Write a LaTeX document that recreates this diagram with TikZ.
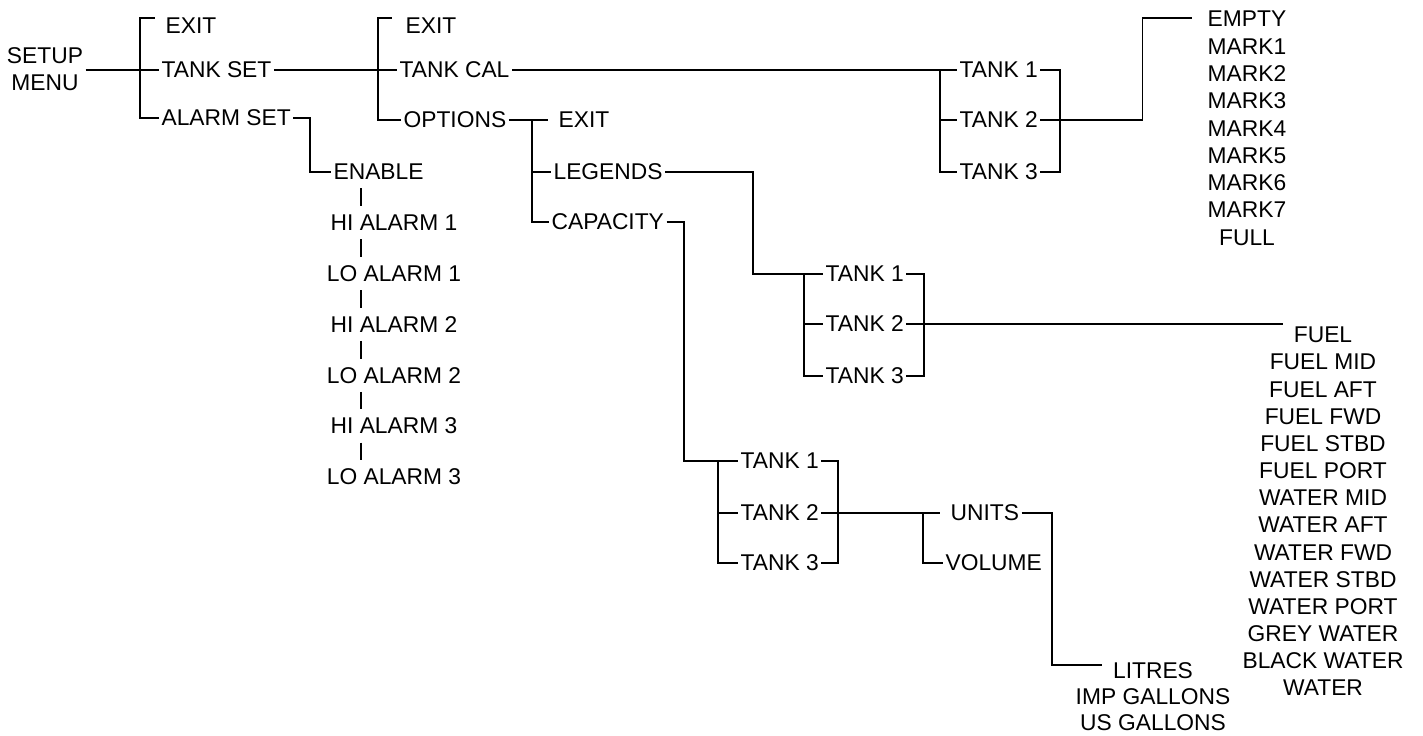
\documentclass[tikz,border=0pt]{standalone}
\usepackage{fontspec}
\setmainfont{Liberation Sans}
\usepackage{tikz}
\usetikzlibrary{positioning,calc}

\newcommand{\menufont}{\fontsize{11.4}{13.6}\selectfont}

\begin{document}
\begin{tikzpicture}[
    x=0.5pt, y=-0.5pt,
    item/.style={anchor=west, inner sep=1pt, font=\menufont},
    entry/.style={inner sep=1pt, font=\menufont},
    link/.style={line width=0.6pt},
    every path/.style={link}
]
\useasboundingbox (0,0) rectangle (1423,735);

% Spines of the brackets
\coordinate (sp4) at (940,0);
\coordinate (rb4) at (1060,0);
\coordinate (sp5) at (804,0);
\coordinate (rb5) at (924,0);
\coordinate (sp6) at (718,0);
\coordinate (rb6) at (838,0);
\coordinate (sp7) at (923,0);
\coordinate (alx) at (361,0);

% Top level
\node[entry, align=center] (menu) at (45,69) {SETUP\\MENU};
\node[item] (exitA) at (163,26) {EXIT};
\node[item] (tankset) at (159,70) {TANK SET};
\node[item] (alarmset) at (159,118) {ALARM SET};

\draw (menu.east |- tankset) -- (tankset.west);
\draw (alarmset.west) -- ++(-19,0) |- ($(exitA.west)+(-8,-8)$);

% Tank set
\node[item] (exitB) at (403,26) {EXIT};
\node[item] (tankcal) at (397,70) {TANK CAL};
\node[item] (options) at (401,120) {OPTIONS};

\draw (tankset.east) -- (tankcal.west);
\draw (options.west) -- ++(-23,0) |- ($(exitB.west)+(-11,-8)$);

% Options
\node[item] (exitC) at (556,120) {EXIT};
\node[item] (legends) at (551,172) {LEGENDS};
\node[item] (capacity) at (549,222) {CAPACITY};

\draw (options.east) -- ($(exitC.west)+(-8,0)$);
\draw ($(exitC.west)+(-24,0)$) |- (capacity.west);
\draw ($(legends.west)+(-19,0)$) -- (legends.west);

% Alarm set
\node[item] (enable) at (331,172) {ENABLE};
\draw (alarmset.east) -| ($(enable.west)+(-21,0)$) -- (enable.west);

\foreach \t [count=\i] in {HI ALARM 1, LO ALARM 1, HI ALARM 2, LO ALARM 2, HI ALARM 3, LO ALARM 3}
    \node[entry] (al\i) at (394, {172+50.8*\i}) {\t};

\draw[shorten <=3pt, shorten >=3pt] (enable.south -| alx) -- (al1.north -| alx);
\foreach \i [evaluate=\i as \j using int(\i+1)] in {1,...,5}
    \draw[shorten <=3pt, shorten >=3pt] (al\i.south -| alx) -- (al\j.north -| alx);

% Tank calibration
\node[item] (tA1) at (957,70) {TANK 1};
\node[item] (tA2) at (957,120) {TANK 2};
\node[item] (tA3) at (957,172) {TANK 3};

\draw (tankcal.east) -- (tA1.west);
\draw (tA1.west -| sp4) |- (tA3.west);
\draw (tA2.west -| sp4) -- (tA2.west);
\draw (tA1.east) -| (tA3.east -| rb4) -- (tA3.east);

\foreach \t [count=\i from 0] in {EMPTY, MARK1, MARK2, MARK3, MARK4, MARK5, MARK6, MARK7, FULL}
    \node[entry] (cal\i) at (1247, {19+27.3*\i}) {\t};

\draw (tA2.east) -| ($(cal0.west)+(-63,-1)$) -- ($(cal0.west)+(-13,-1)$);

% Legends
\node[item] (tB1) at (823,274) {TANK 1};
\node[item] (tB2) at (823,324) {TANK 2};
\node[item] (tB3) at (823,376) {TANK 3};

\draw (legends.east) -| ($(tB1.west)+(-70,0)$) -- (tB1.west);
\draw (tB1.west -| sp5) |- (tB3.west);
\draw (tB2.west -| sp5) -- (tB2.west);
\draw (tB1.east) -| (tB3.east -| rb5) -- (tB3.east);

\foreach \t [count=\i from 0] in {FUEL, FUEL MID, FUEL AFT, FUEL FWD, FUEL STBD, FUEL PORT, WATER MID, WATER AFT, WATER FWD, WATER STBD, WATER PORT, GREY WATER, BLACK WATER, WATER}
    \node[entry] (leg\i) at (1323, {335+27.15*\i}) {\t};

\coordinate (legin) at (1283,324);
\draw (tB2.east) -- (legin);

% Capacity
\node[item] (tC1) at (738,461) {TANK 1};
\node[item] (tC2) at (738,513) {TANK 2};
\node[item] (tC3) at (738,563) {TANK 3};

\draw (capacity.east) -| ($(tC1.west)+(-54,0)$) -- (tC1.west);
\draw (tC1.west -| sp6) |- (tC3.west);
\draw (tC2.west -| sp6) -- (tC2.west);
\draw (tC1.east) -| (tC3.east -| rb6) -- (tC3.east);

\node[item] (units) at (948,513) {UNITS};
\node[item] (volume) at (943,563) {VOLUME};

\draw (tC2.east) -- ($(units.west)+(-8,0)$);
\draw (tC2.east -| sp7) |- (volume.west);

\foreach \t [count=\i from 0] in {LITRES, IMP GALLONS, US GALLONS}
    \node[entry] (lit\i) at (1153, {671+26*\i}) {\t};

\coordinate (litin) at (1102,665);
\draw (units.east) -| ($(litin)+(-50,0)$) -- (litin);

\end{tikzpicture}
\end{document}
